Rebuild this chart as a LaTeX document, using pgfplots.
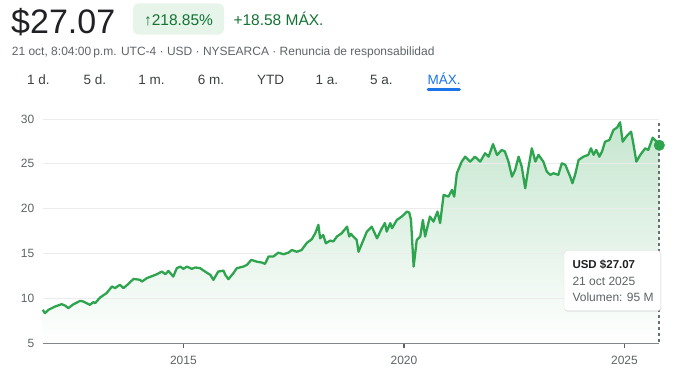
\documentclass[border=0pt]{standalone}
\usepackage{fontspec}
\setmainfont{Liberation Sans}
\usepackage{pgfplots}
\pgfplotsset{compat=1.18}
\usepackage{pgfplotstable}
\usetikzlibrary{shadows}
\definecolor{lg}{RGB}{46,164,79}
\definecolor{fillg}{RGB}{198,230,207}
\definecolor{gdark}{RGB}{19,115,51}
\definecolor{badge}{RGB}{230,244,234}
\definecolor{txtdark}{RGB}{32,33,36}
\definecolor{txtgray}{RGB}{95,99,104}
\definecolor{btngray}{RGB}{60,64,67}
\definecolor{gblue}{RGB}{26,115,232}
\definecolor{gridc}{RGB}{236,236,236}
\definecolor{axc}{RGB}{128,134,139}
\definecolor{dashc}{RGB}{105,110,115}

\pgfplotstableread{
x y
2011.81 8.73
2011.86 8.36
2011.94 8.73
2012.09 9.10
2012.24 9.36
2012.32 9.20
2012.39 8.92
2012.51 9.36
2012.66 9.73
2012.73 9.66
2012.88 9.29
2012.96 9.59
2013.00 9.48
2013.11 10.10
2013.26 10.60
2013.38 11.33
2013.45 11.15
2013.56 11.52
2013.64 11.15
2013.73 11.52
2013.87 12.18
2014.02 12.07
2014.06 11.88
2014.17 12.26
2014.40 12.70
2014.51 13.00
2014.59 12.70
2014.66 13.07
2014.77 12.44
2014.85 13.37
2014.93 13.55
2015.00 13.30
2015.08 13.55
2015.19 13.30
2015.27 13.45
2015.38 13.37
2015.49 13.00
2015.61 12.63
2015.68 12.07
2015.79 13.00
2015.91 13.10
2015.95 12.63
2016.02 12.15
2016.13 12.80
2016.21 13.37
2016.36 13.55
2016.44 13.74
2016.54 14.30
2016.66 14.10
2016.78 14.00
2016.85 13.85
2016.93 14.67
2017.04 14.67
2017.15 15.10
2017.27 14.93
2017.38 15.10
2017.46 15.40
2017.57 15.20
2017.68 15.40
2017.80 16.20
2017.91 16.60
2017.99 17.27
2018.06 18.20
2018.10 16.70
2018.17 17.08
2018.23 16.15
2018.33 16.45
2018.40 16.35
2018.48 16.90
2018.59 17.27
2018.71 18.00
2018.76 16.90
2018.80 17.20
2018.85 16.90
2018.93 16.50
2018.97 15.20
2019.08 16.50
2019.16 17.45
2019.27 18.00
2019.39 16.70
2019.50 17.83
2019.57 18.40
2019.61 17.45
2019.69 18.40
2019.73 17.83
2019.84 18.75
2019.95 19.12
2020.07 19.68
2020.12 19.57
2020.16 18.75
2020.22 13.55
2020.29 16.50
2020.37 16.90
2020.43 18.75
2020.48 16.90
2020.59 19.12
2020.67 18.56
2020.76 19.68
2020.82 18.40
2020.90 21.54
2021.01 21.35
2021.09 22.10
2021.14 21.35
2021.20 23.95
2021.31 25.25
2021.39 25.80
2021.50 25.25
2021.61 25.80
2021.73 25.25
2021.84 26.18
2021.92 25.80
2022.02 27.20
2022.11 25.99
2022.22 26.55
2022.29 26.36
2022.37 25.25
2022.45 23.57
2022.52 24.30
2022.60 25.80
2022.67 24.70
2022.75 22.28
2022.82 24.50
2022.90 26.73
2022.98 25.25
2023.05 26.00
2023.16 25.25
2023.24 24.13
2023.32 23.77
2023.39 23.95
2023.50 23.77
2023.58 25.06
2023.66 24.88
2023.77 23.57
2023.82 22.84
2023.88 23.77
2023.96 25.43
2024.07 25.80
2024.18 26.00
2024.24 26.73
2024.30 26.00
2024.36 26.55
2024.43 25.80
2024.49 26.36
2024.56 27.47
2024.66 27.66
2024.75 28.78
2024.83 29.03
2024.90 29.63
2024.96 27.47
2025.04 28.03
2025.15 28.59
2025.20 27.29
2025.27 25.25
2025.36 26.00
2025.47 26.73
2025.54 26.55
2025.64 27.92
2025.73 27.47
2025.79 27.07
}\pricedata

\begin{document}
\begin{tikzpicture}
\begin{scope}[x=1pt,y=1pt]
% header
\node[anchor=base west, inner sep=0, font=\fontsize{34}{34}\selectfont, text=txtdark] at (11,351) {\$27.07};
\fill[badge, rounded corners=6pt] (133,349.3) rectangle (224,380.7);
\node[anchor=base, inner sep=0, font=\fontsize{15.5}{15.5}\selectfont, text=gdark] at (178.5,359) {↑218.85\%};
\node[anchor=base west, inner sep=0, font=\fontsize{15.5}{15.5}\selectfont, text=gdark] at (233.3,359) {+18.58 MÁX.};
\node[anchor=base west, inner sep=0, font=\fontsize{12}{12}\selectfont, text=txtgray] at (11.7,329) {21 oct, 8:04:00\,p.m. UTC-4 · USD · NYSEARCA · Renuncia de responsabilidad};
% range buttons
\foreach \cx/\lab in {38.5/1 d.,95/5 d.,151.5/1 m.,211/6 m.,270.5/YTD,327/1 a.,381.5/5 a.}{
  \node[anchor=base, inner sep=0, font=\fontsize{13.5}{13.5}\selectfont, text=btngray] at (\cx,300) {\lab};
}
\node[anchor=base, inner sep=0, font=\fontsize{13.5}{13.5}\selectfont, text=gblue] at (444,300) {MÁX.};
\draw[gblue, line width=2.5pt, line cap=round] (428,294.5) -- (459.5,294.5);
\end{scope}

\begin{axis}[
  at={(42.7pt,40.7pt)}, anchor=south west,
  scale only axis, width=616.6pt, height=233.3pt,
  xmin=2011.81, xmax=2025.79, ymin=5, ymax=31,
  set layers, clip=false,
  axis lines*=left,
  y axis line style={draw=none},
  x axis line style={draw=axc, line width=1pt},
  xtick={2015,2020,2025}, xticklabels={2015,2020,2025},
  ytick={5,10,15,20,25,30},
  tick align=outside, major tick length=5pt,
  ytick style={draw=none},
  xtick style={draw=txtgray, line width=1.5pt},
  ymajorgrids, grid style={draw=gridc, line width=0.8pt},
  /pgf/number format/assume math mode=true,
  ticklabel style={font=\fontsize{12}{12}\selectfont, text=txtgray},
  xticklabel style={yshift=-4pt},
]
\addplot[draw=none, on layer=axis background, top color=fillg, bottom color=white] table[x=x,y=y] {\pricedata} \closedcycle;
\addplot[lg, line width=2.3pt, line join=round] table[x=x,y=y] {\pricedata};
\addplot[dashc, line width=2pt, dash pattern=on 2.5pt off 3.5pt] coordinates {(2025.79,29.55) (2025.79,5)};
\addplot[only marks, mark=*, mark size=5.3pt, color=lg, mark options={draw=lg, fill=lg}] coordinates {(2025.79,27.07)};
\end{axis}

\begin{scope}[x=1pt,y=1pt]
% tooltip
\draw[draw=gray!25, fill=white, rounded corners=3pt, drop shadow={opacity=0.2, shadow xshift=0.6pt, shadow yshift=-1pt}] (564,73.3) rectangle (660.7,133.3);
\node[anchor=base west, inner sep=0, font=\bfseries\fontsize{11.5}{11.5}\selectfont, text=txtdark] at (572.3,115.7) {USD \$27.07};
\node[anchor=base west, inner sep=0, font=\fontsize{12}{12}\selectfont, text=txtgray] at (572.3,99) {21 oct 2025};
\node[anchor=base west, inner sep=0, font=\fontsize{12}{12}\selectfont, text=txtgray] at (572.3,83) {Volumen: 95 M};
\pgfresetboundingbox
\useasboundingbox (0,0) rectangle (679,384);
\end{scope}
\end{tikzpicture}
\end{document}
